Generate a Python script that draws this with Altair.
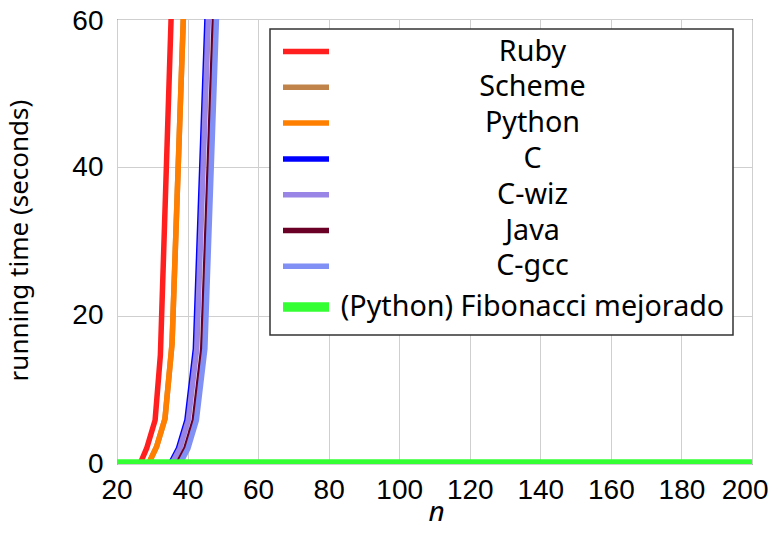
import altair as alt
import pandas as pd

series_names = ["Ruby", "Scheme", "Python", "C", "C-wiz", "Java", "C-gcc",
                "(Python) Fibonacci mejorado"]
series_colors = ["#ff1f1f", "#c0834a", "#ff8000", "#0000ff", "#9985e5",
                 "#6a0025", "#8090f5", "#33ff33"]
series_widths = [5.5, 5.5, 5.5, 5.5, 5.5, 5.5, 5.5, 9.5]

ruby_n = [20, 26.5, 28.4, 30.8, 32.3, 36.0]
ruby_t = [0, 0, 2.1, 5.9, 14.7, 70]
scheme_n = [20, 28.9, 31.2, 33.6, 35.6, 39.5]
scheme_t = [0, 0, 2.3, 6.1, 16.2, 69.6]
python_n = [20, 28.9, 31.2, 33.6, 35.6, 39.5]
python_t = [0, 0, 2.3, 6.1, 16.2, 69.6]
c_n = [20, 35.1, 37.4, 39.8, 42.2, 46.6]
c_t = [0, 0, 2.1, 5.9, 15.5, 75]
cwiz_n = [20, 35.5, 37.8, 40.2, 42.6, 47.0]
cwiz_t = [0, 0, 2.1, 5.9, 15.5, 75]
java_n = [20, 37.2, 39.5, 41.9, 44.3, 48.7]
java_t = [0, 0, 2.1, 5.9, 15.5, 75]
cgcc_n = [20, 37.8, 40.1, 42.5, 44.9, 49.3]
cgcc_t = [0, 0, 2.1, 5.9, 15.5, 75]
fib_n = [20, 200]
fib_t = [0, 0]

x_ticks = [20, 40, 60, 80, 100, 120, 140, 160, 180, 200]
y_ticks = [0, 20, 40, 60]

all_n = [ruby_n, scheme_n, python_n, c_n, cwiz_n, java_n, cgcc_n, fib_n]
all_t = [ruby_t, scheme_t, python_t, c_t, cwiz_t, java_t, cgcc_t, fib_t]

rows = []
for order, (name, ns, ts) in enumerate(zip(series_names, all_n, all_t)):
    for i, (n, t) in enumerate(zip(ns, ts)):
        rows.append({"series": name, "n": n, "t": t, "order": order, "i": i})
df = pd.DataFrame(rows)

legend = alt.Legend(title=None, orient="none", legendX=153, legendY=10,
                    symbolType="M-2,0H2", symbolSize=529, symbolOffset=11.5,
                    labelFont="Noto Sans", labelFontSize=28.7,
                    labelAlign="center", labelOffset=210,
                    labelLimit=700, labelColor="#000",
                    rowPadding=5.8, padding=8,
                    strokeColor="#333", fillColor="white", cornerRadius=0)

chart = alt.Chart(df).mark_line(clip=True, strokeJoin="round").encode(
    x=alt.X("n:Q",
            scale=alt.Scale(domain=[20, 200], nice=False, zero=False),
            axis=alt.Axis(values=x_ticks, title="n", titleFontStyle="italic",
                          titleFont="Noto Sans", titleFontSize=28,
                          titleFontWeight="normal",
                          titleBaseline="bottom", titleX=319, titleY=62,
                          labelFont="Liberation Sans", labelFontSize=28,
                          labelPadding=12, ticks=False, domain=False,
                          grid=True, gridColor="#cfcfcf", gridWidth=1,
                          labelColor="#000", titleColor="#000",
                          labelFlush=True, labelFlushOffset=16,
                          labelOverlap=False)),
    y=alt.Y("t:Q",
            scale=alt.Scale(domain=[0, 60], nice=False),
            axis=alt.Axis(values=y_ticks, title="running time (seconds)",
                          titleFont="Noto Sans", titleFontSize=26,
                          titleFontWeight="normal", titleX=-85, titleY=221,
                          labelFont="Liberation Sans", labelFontSize=28,
                          labelPadding=14, ticks=False, domain=False,
                          grid=True, gridColor="#cfcfcf", gridWidth=1,
                          labelColor="#000", titleColor="#000",
                          labelOffset={"condition": {"test": "datum.value == 60",
                                                     "value": 2},
                                       "value": 0},
                          labelFlush=False, labelOverlap=False)),
    color=alt.Color("series:N",
                    scale=alt.Scale(domain=series_names, range=series_colors),
                    legend=legend),
    strokeWidth=alt.StrokeWidth("series:N",
                                scale=alt.Scale(type="ordinal",
                                                domain=series_names,
                                                range=series_widths),
                                legend=legend),
    detail="series:N",
    order="i:Q",
).properties(
    width=635, height=445,
    autosize=alt.AutoSizeParams(type="none"),
    padding={"left": 109, "top": 11, "right": 19, "bottom": 63},
).configure_view(
    stroke="#222", strokeWidth=1
).configure_legend(
    strokeWidth=1.5
)

chart.save("out.html", embed_options={"renderer": "svg", "actions": False})
